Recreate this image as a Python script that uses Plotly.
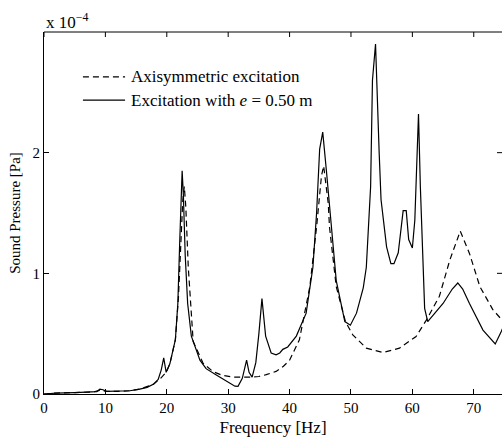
import plotly.graph_objects as go

# Frequency [Hz] and sound pressure [x 1e-4 Pa]
freq_axi = [0, 2, 5, 8, 9.1, 10.2, 12, 14, 15.6, 17.8, 19.0, 19.9, 20.5, 21.4, 21.9, 22.3, 22.6, 22.85,
            23.1, 23.5, 24.3, 25.9, 27.5, 29, 30.8, 33.5, 35, 36.2, 37.8, 39, 40.0, 41.6, 43.3, 44.4,
            45.2, 45.55, 46.3, 46.5, 47.6, 49.1, 50.3, 52.5, 55.2, 57.9, 60.6, 62.3, 64.4, 66.1, 67.8,
            69.3, 71.0, 73.1, 74.5, 75]
p_axi = [0, 0.008, 0.012, 0.017, 0.03, 0.022, 0.022, 0.027, 0.04, 0.08, 0.13, 0.18, 0.25, 0.45, 0.8,
         1.3, 1.6, 1.72, 1.55, 1.05, 0.435, 0.256, 0.187, 0.155, 0.14, 0.14, 0.145, 0.16, 0.187, 0.23,
         0.28, 0.45, 0.89, 1.385, 1.81, 1.89, 1.58, 1.385, 0.89, 0.60, 0.49, 0.38, 0.344, 0.38, 0.476,
         0.614, 0.81, 1.11, 1.35, 1.165, 0.89, 0.70, 0.614, 0.59]

freq_ecc = [0, 2, 5, 8, 8.6, 9.1, 9.6, 10.2, 12, 14, 15.6, 16.8, 17.8, 18.6, 19.1, 19.5, 19.9, 20.5,
            21.4, 21.8, 22.1, 22.3, 22.5, 22.7, 23.0, 23.4, 24.0, 25.4, 26.4, 28, 30, 31.1, 31.6, 32.3,
            33.0, 33.4, 33.9, 34.5, 35.0, 35.5, 36.1, 37.0, 37.8, 38.4, 38.9, 39.7, 41.1, 42.7, 43.8,
            44.4, 44.9, 45.4, 46.0, 46.5, 47.6, 49.0, 49.9, 50.9, 52.0, 52.5, 53.2, 53.5, 54.0, 54.6,
            54.9, 55.8, 56.5, 57.0, 57.7, 58.5, 59.0, 59.4, 60.0, 60.4, 61.0, 61.3, 62.0, 62.5, 63.4,
            65.0, 66.5, 67.4, 68.2, 69.3, 71.5, 73.5, 74.5, 75]
p_ecc = [0, 0.008, 0.012, 0.017, 0.02, 0.04, 0.035, 0.022, 0.022, 0.027, 0.04, 0.055, 0.08, 0.12, 0.2,
         0.30, 0.18, 0.25, 0.45, 0.75, 1.25, 1.65, 1.85, 1.65, 1.15, 0.75, 0.48, 0.28, 0.21, 0.16, 0.1,
         0.065, 0.063, 0.13, 0.28, 0.18, 0.14, 0.26, 0.5, 0.79, 0.48, 0.34, 0.325, 0.34, 0.37, 0.39,
         0.48, 0.67, 1.05, 1.5, 2.03, 2.17, 1.85, 1.55, 0.94, 0.60, 0.57, 0.67, 0.88, 1.05, 1.72, 2.60,
         2.90, 1.99, 1.61, 1.22, 1.08, 1.08, 1.17, 1.52, 1.52, 1.28, 1.21, 1.44, 2.32, 1.72, 0.71, 0.60,
         0.655, 0.75, 0.87, 0.92, 0.87, 0.75, 0.53, 0.415, 0.52, 0.58]

series_names = ["Axisymmetric excitation", "Excitation with <i>e</i> = 0.50 m"]
series_dash = ["6px,4px", "solid"]

x_ticks = [0, 10, 20, 30, 40, 50, 60, 70]
y_ticks = [0, 1, 2, 3]
y_ticklabels = ["0", "1", "2", ""]
right_ticks = [1, 2]

FONT = "Liberation Serif"
LINE_W = 1.2

fig = go.Figure()
fig.add_trace(go.Scatter(x=freq_axi, y=p_axi, mode="lines", name=series_names[0], showlegend=False,
                         line=dict(color="black", width=LINE_W, dash=series_dash[0])))
fig.add_trace(go.Scatter(x=freq_ecc, y=p_ecc, mode="lines", name=series_names[1], showlegend=False,
                         line=dict(color="black", width=LINE_W, dash=series_dash[1])))

TICK_FRAC_Y = 5 / 362
TICK_FRAC_X = 5 / 458
shapes = []
# top frame line and mirrored ticks
shapes.append(dict(type="line", xref="paper", yref="paper", x0=0, x1=1, y0=1, y1=1,
                   line=dict(color="black", width=1)))
for t in x_ticks:
    shapes.append(dict(type="line", xref="x", yref="paper", x0=t, x1=t, y0=1, y1=1 - TICK_FRAC_Y,
                       line=dict(color="black", width=1)))
# right-side ticks (right frame line lies just outside the picture)
for t in right_ticks:
    shapes.append(dict(type="line", xref="paper", yref="y", x0=1 - TICK_FRAC_X, x1=1.0, y0=t, y1=t,
                       line=dict(color="black", width=1)))

# manual legend (MATLAB style, no box)
leg_x0, leg_x1, leg_tx = 0.085, 0.177, 0.186
leg_rows = [0.876, 0.812]
annotations = []
for name, dash, yy in zip(series_names, series_dash, leg_rows):
    shapes.append(dict(type="line", xref="paper", yref="paper", x0=leg_x0, x1=leg_x1, y0=yy, y1=yy,
                       line=dict(color="black", width=LINE_W, dash=dash)))
    annotations.append(dict(text=name, xref="paper", yref="paper", x=leg_tx, y=yy,
                            xanchor="left", yanchor="middle", showarrow=False,
                            font=dict(family=FONT, size=17, color="black")))

annotations.append(dict(text="x 10<sup>\u22124</sup>", xref="paper", yref="paper", x=0.0, y=1.0,
                        xanchor="left", yanchor="bottom", showarrow=False,
                        font=dict(family=FONT, size=17, color="black"), yshift=-2, xshift=0))

fig.update_layout(
    width=502, height=439,
    margin=dict(l=44, r=0, t=32, b=45),
    plot_bgcolor="white", paper_bgcolor="white",
    font=dict(family=FONT, size=14, color="black"),
    showlegend=False,
    xaxis=dict(range=[0, 74.6], tickvals=x_ticks, ticks="inside", ticklen=5, tickcolor="black",
               showline=True, linecolor="black", linewidth=1, showgrid=False,
               zeroline=False, automargin=False,
               title=dict(text="Frequency [Hz]", standoff=6, font=dict(family=FONT, size=17)),
               tickfont=dict(family=FONT, size=15)),
    yaxis=dict(range=[0, 3], tickvals=y_ticks, ticktext=y_ticklabels, ticks="inside", ticklen=5,
               tickcolor="black", showline=True, linecolor="black", linewidth=1, showgrid=False,
               zeroline=False, automargin=False,
               title=dict(text="Sound Pressure [Pa]", standoff=8, font=dict(family=FONT, size=15)),
               tickfont=dict(family=FONT, size=15)),
    shapes=shapes,
    annotations=annotations,
)

fig.write_html("out.html", config={"displayModeBar": False},
               post_script="document.body.style.margin='0px';document.body.style.overflow='hidden';")
